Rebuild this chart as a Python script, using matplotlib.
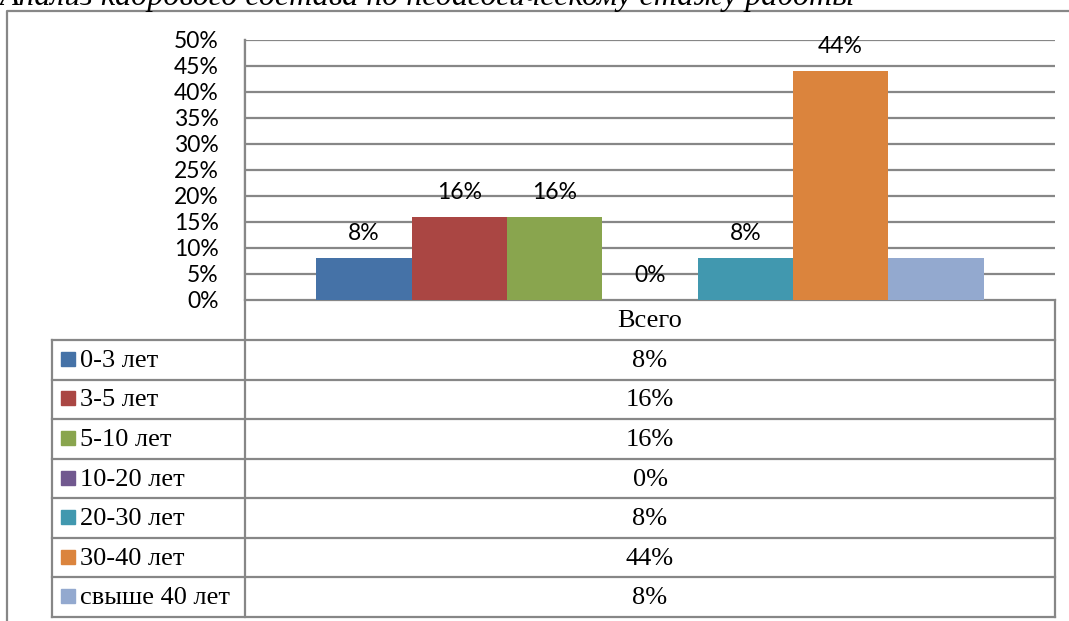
import matplotlib.pyplot as plt
from matplotlib.patches import Rectangle

# данные
группы = ['0-3 лет', '3-5 лет', '5-10 лет', '10-20 лет', '20-30 лет', '30-40 лет', 'свыше 40 лет']
значения = [8, 16, 16, 0, 8, 44, 8]
подписи = [True, True, True, True, True, True, False]  # у последнего столбца подписи нет
категория = 'Всего'
цвета = ['#4572A7', '#AA4643', '#89A54E', '#71588F', '#4198AF', '#DB843D', '#93A9CF']
заголовок = 'Анализ кадрового состава по педагогическому стажу работы'

W, H = 1069, 621
серый = '#878787'
шрифт_диагр = 'Lato'
шрифт_табл = 'Liberation Serif'

fig = plt.figure(figsize=(W / 100, H / 100), dpi=100)

# область построения (пиксели)
px_l, px_r, px_t, px_b = 245, 1055, 40, 300
ax = fig.add_axes([px_l / W, 1 - px_b / H, (px_r - px_l) / W, (px_b - px_t) / H])

n = len(значения)
w = 1 / (n + 1.5)  # зазор 150%
for i, (v, c, p) in enumerate(zip(значения, цвета, подписи)):
    x = (i - (n - 1) / 2) * w
    ax.bar(x, v, width=w, color=c, zorder=3)
    if p:
        ax.annotate(f'{v}%', (x, v), xytext=(0, 13), textcoords='offset points',
                    ha='center', va='baseline', fontsize=16.5, family=шрифт_диагр, zorder=4)

ax.set_xlim(-0.5, 0.5)
ax.set_ylim(0, 50)
ax.set_yticks(range(0, 51, 5))
ax.set_yticklabels([f'{t}%' for t in range(0, 51, 5)], family=шрифт_диагр, fontsize=16.5)
ax.tick_params(axis='y', length=0, pad=19)
ax.set_xticks([])
ax.grid(axis='y', color=серый, linewidth=1.6, zorder=0)
for s in ['top', 'right', 'bottom']:
    ax.spines[s].set_visible(False)
ax.spines['left'].set_color(серый)
ax.spines['left'].set_linewidth(1.6)

# таблица данных и рамка
ov = fig.add_axes([0, 0, 1, 1], zorder=-1)
ov.set_xlim(0, W)
ov.set_ylim(H, 0)
ov.axis('off')

# рамка диаграммы
ov.plot([7, 7, W], [H, 11, 11], color=серый, linewidth=1.6)

ov.text(0, 5, заголовок, family=шрифт_табл, style='italic', fontsize=23, va='baseline', ha='left')

head_b = 340
row_h = (617 - head_b) / n
tab_l = 52

# шапка
ov.plot([px_l, px_r], [px_b, px_b], color=серый, linewidth=1.6)
ov.plot([px_l, px_l], [px_t, 617], color=серый, linewidth=1.6)
ov.plot([px_r, px_r], [px_b, 617], color=серый, linewidth=1.6)
ov.text((px_l + px_r) / 2, (px_b + head_b) / 2 + 1, категория, ha='center', va='center',
        family=шрифт_табл, fontsize=19)

ov.plot([tab_l, tab_l], [head_b, 617], color=серый, linewidth=1.6)
for i in range(n + 1):
    y = head_b + i * row_h
    ov.plot([tab_l, px_r], [y, y], color=серый, linewidth=1.6)

for i, (g, v, c) in enumerate(zip(группы, значения, цвета)):
    yc = head_b + (i + 0.5) * row_h
    ov.add_patch(Rectangle((61, yc - 8), 14, 14, color=c))
    ov.text(80, yc + 1, g, ha='left', va='center', family=шрифт_табл, fontsize=19)
    ov.text((px_l + px_r) / 2, yc + 1, f'{v}%', ha='center', va='center',
            family=шрифт_табл, fontsize=19)

fig.savefig('out.png', dpi=100)
